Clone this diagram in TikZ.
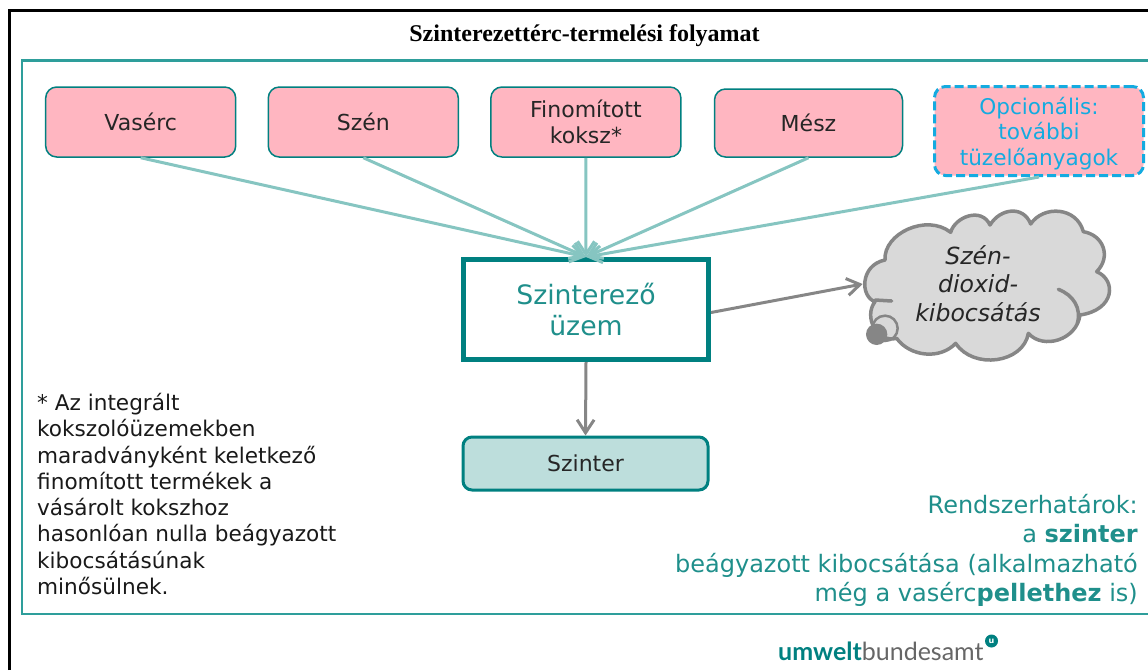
\documentclass[tikz,border=0pt]{standalone}
\usepackage{fontspec}
\setmainfont{DejaVu Sans}
\newfontfamily\titlefont{Liberation Serif}
\newfontfamily\logofont{Lato}
\usetikzlibrary{arrows.meta}
\definecolor{tealdark}{HTML}{008080}
\definecolor{tealtext}{HTML}{1F8F8B}
\definecolor{tealline}{HTML}{86C5C1}
\definecolor{tealframe}{HTML}{2E9E9B}
\definecolor{tealfill}{HTML}{BDDEDC}
\definecolor{pinkfill}{HTML}{FFB6C1}
\definecolor{optblue}{HTML}{14ABE0}
\definecolor{cloudfill}{HTML}{D9D9D9}
\definecolor{greyline}{HTML}{868686}
\begin{document}
\begin{tikzpicture}[x=1pt, y=-1pt, node distance=222.6pt,
    main node/.style={rectangle, rounded corners=11pt, draw=tealdark, line width=1.5pt, fill=pinkfill, minimum width=190pt, minimum height=70pt, inner sep=0pt, align=center, text=black!85},
    feed/.style={draw=tealline, line width=3pt, -{Straight Barb[length=13pt,width=17pt]}},
    grey arrow/.style={draw=greyline, line width=3pt, -{Straight Barb[length=13pt,width=17pt]}}]
        \tikzstyle{every node}=[font=\fontsize{22}{26.3}\selectfont]
        \useasboundingbox (0,0) rectangle (1148,670);

        % frames
        \draw[line width=2.5pt] (9.5,670) -- (9.5,10.5) -- (1148,10.5);
        \draw[tealframe, line width=2.5pt] (1148,60.5) -- (22,60.5) -- (22,614) -- (1148,614);
        \node (title) at (584.5,36) {\titlefont\bfseries\fontsize{24}{28}\selectfont Szinterezettérc-termelési folyamat};

        % inputs
        \node[main node] (vaserc) at (140.7,122) {Vasérc};
        \node[main node] (szen) [right of=vaserc] {Szén};
        \node[main node] (koksz) [right of=szen] {Finomított\\koksz*};
        \node[main node, minimum width=188pt, minimum height=68pt, yshift=-1pt] (mesz) [right of=koksz] {Mész};
        \node[main node, minimum width=209pt, minimum height=89pt, draw=optblue, dash pattern=on 9pt off 4pt, line width=3pt, text=optblue, font=\fontsize{21.6}{25.5}\selectfont] (opc) at (1039,131) {\rule{0pt}{22pt}Opcionális:\\további\\tüzelőanyagok};

        % plant and product
        \node[rectangle, draw=tealdark, line width=5pt, fill=white, minimum width=245pt, minimum height=100pt, align=center, text=tealtext, inner sep=0pt, font=\fontsize{26.7}{31}\selectfont] (uzem) at (586,309.5) {Szinterező\\üzem};
        \node[rectangle, rounded corners=9pt, draw=tealdark, line width=3pt, fill=tealfill, minimum width=245pt, minimum height=53pt, text=black!85, inner sep=0pt] (szinter) at (585.5,463.5) {Szinter};

        % cloud
        \begin{scope}[shift={(840,200)}, scale=1/3]
          \draw[greyline, fill=cloudfill, line width=3.5pt, line cap=round, line join=round]
            (135,180) .. controls (130,100) and (260,40) .. (332,97)
            .. controls (345,50) and (425,20) .. (450,75)
            .. controls (480,25) and (550,15) .. (572,72)
            .. controls (610,15) and (710,20) .. (730,95)
            .. controls (790,105) and (815,170) .. (770,215)
            .. controls (830,240) and (825,330) .. (720,345)
            .. controls (710,420) and (610,450) .. (565,400)
            .. controls (550,490) and (400,510) .. (347,430)
            .. controls (300,480) and (210,470) .. (170,415)
            .. controls (110,430) and (70,350) .. (105,305)
            .. controls (60,290) and (60,195) .. (135,180) -- cycle;
          \draw[greyline, line width=3.5pt, line cap=round] (655,268) .. controls (700,285) and (725,325) .. (712,370);
          \draw[greyline, line width=3.5pt, line cap=round] (105,300) -- (155,303);
          \draw[greyline, line width=2.5pt] (135,385) circle (38);
          \fill[greyline] (110,403) circle (32);
          \coordinate (co2) at (68,252);
        \end{scope}
        \node[align=center, text=black!85, font=\itshape\fontsize{23.6}{28.5}\selectfont] (felho) at (978,283.5) {Szén-\\dioxid-\\kibocsátás};

        % notes
        \node[anchor=north west, align=left, inner sep=0pt, text=black!90, font=\fontsize{21.6}{26.3}\selectfont] (note) at (37,393) {* Az integrált\\kokszolóüzemekben\\maradványként keletkező\\finomított termékek a\\vásárolt kokszhoz\\hasonlóan nulla beágyazott\\kibocsátásúnak\\minősülnek.};
        \node[anchor=north east, align=right, inner sep=0pt, text=tealtext, font=\fontsize{24}{29.3}\selectfont] (bound) at (1138,494) {Rendszerhatárok:\\a \textbf{szinter}\\beágyazott kibocsátása (alkalmazható\\még a vasérc\textbf{pellethez} is)};

        % logo
        \node[anchor=west, inner sep=0pt, font=\logofont\fontsize{25}{30}\selectfont, text=black!60] (logo) at (778,651) {\textcolor{tealdark}{\bfseries umwelt}bundesamt};
        \node[circle, fill=tealdark, text=white, inner sep=0pt, minimum size=13pt, font=\bfseries\fontsize{8}{8}\selectfont] (logou) at (991.5,641) {u};

        \path (vaserc.south) edge[feed] (uzem.north)
          (szen.south) edge[feed] (uzem.north)
          (koksz.south) edge[feed] (uzem.north)
          (mesz.south) edge[feed] (uzem.north)
          (opc.south) edge[feed] (uzem.north);
        \path ([yshift=-3pt]uzem.east) edge[grey arrow] (co2)
          (uzem.south) edge[grey arrow] (szinter.north);

\end{tikzpicture}
\end{document}
